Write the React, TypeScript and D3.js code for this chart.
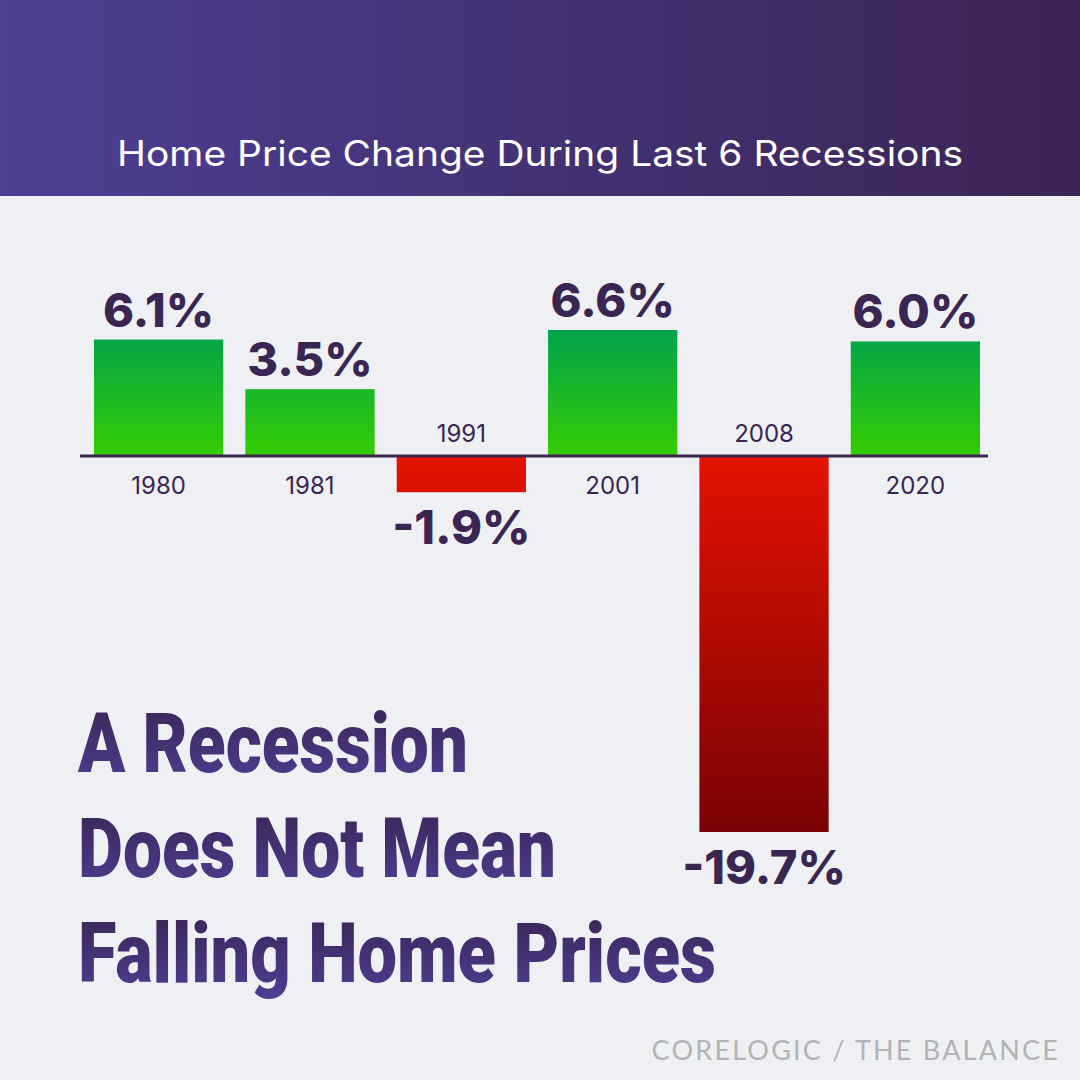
import React from 'react';
import * as d3 from 'd3';

const years = ['1980', '1981', '1991', '2001', '2008', '2020'];
const changes = [6.1, 3.5, -1.9, 6.6, -19.7, 6.0];
const headline = ['A Recession', 'Does Not Mean', 'Falling Home Prices'];
const headlineWidths = [390, 478, 638];

const W = 1080;
const H = 1080;
const ink = '#3b2553';

export default function App() {
  const x = d3.scaleBand<string>().domain(years).range([94, 980]).paddingInner(0.146).paddingOuter(0);
  const y = d3.scaleLinear().domain([-19.7, 6.6]).range([832, 330]);
  const y0 = y(0);
  const fmt = (v: number) => `${v.toFixed(1)}%`;

  return (
    <svg width={W} height={H} viewBox={`0 0 ${W} ${H}`}
      style={{ display: 'block', position: 'absolute', left: 0, top: 0 }}>
      <defs>
        <linearGradient id="hdr" x1="0" x2="1" y1="0" y2="0">
          <stop offset="0" stopColor="#4d3f94" />
          <stop offset="1" stopColor="#3b2454" />
        </linearGradient>
        <linearGradient id="pos" gradientUnits="userSpaceOnUse" x1="0" x2="0" y1={y(6.6)} y2={y0}>
          <stop offset="0" stopColor="#00a34b" />
          <stop offset="1" stopColor="#35cd02" />
        </linearGradient>
        <linearGradient id="neg" gradientUnits="userSpaceOnUse" x1="0" x2="0" y1={y0} y2={y(-19.7)}>
          <stop offset="0" stopColor="#e41200" />
          <stop offset="1" stopColor="#7a0205" />
        </linearGradient>
        <linearGradient id="hl" x1="0" x2="0" y1="0" y2="1">
          <stop offset="0" stopColor="#3a2352" />
          <stop offset="1" stopColor="#4f3f95" />
        </linearGradient>
      </defs>
      <rect x={0} y={0} width={W} height={H} fill="#eff0f4" />
      <rect x={0} y={0} width={W} height={196} fill="url(#hdr)" />
      <text x={540} y={166} textAnchor="middle" fill="#ffffff" fontFamily="Inter, 'Noto Sans', sans-serif"
        fontSize={35} textLength={846} lengthAdjust="spacingAndGlyphs">
        Home Price Change During Last 6 Recessions
      </text>

      {years.map((yr, i) => {
        const v = changes[i];
        const bx = x(yr)!;
        const cx = bx + x.bandwidth() / 2;
        const top = Math.min(y(v), y0);
        const h = Math.abs(y(v) - y0);
        return (
          <g key={yr}>
            <rect x={bx} y={top} width={x.bandwidth()} height={h} fill={v >= 0 ? 'url(#pos)' : 'url(#neg)'} />
            <text x={cx} y={v >= 0 ? y(v) - 13 : y(v) + 52} textAnchor="middle" fill={ink}
              fontFamily="Inter, 'Noto Sans', sans-serif" fontWeight={800} fontSize={47}>
              {fmt(v)}
            </text>
            <text x={cx} y={v >= 0 ? y0 + 38 : y0 - 14} textAnchor="middle" fill={ink}
              fontFamily="Inter, 'Noto Sans', sans-serif" fontSize={24}>
              {yr}
            </text>
          </g>
        );
      })}
      <line x1={80} x2={988} y1={y0} y2={y0} stroke={ink} strokeWidth={3} />

      {headline.map((t, i) => (
        <text key={t} x={78} y={772 + i * 105} fill="url(#hl)" fontFamily="Roboto, 'Liberation Sans', sans-serif"
          fontWeight={900} fontSize={84} textLength={headlineWidths[i]} lengthAdjust="spacingAndGlyphs">
          {t}
        </text>
      ))}

      <text x={1060} y={1060} textAnchor="end" fill="#b3b3b6" fontFamily="Lato, 'Open Sans', sans-serif"
        fontWeight={400} fontSize={27} letterSpacing={2.2}>
        CORELOGIC / THE BALANCE
      </text>
    </svg>
  );
}
